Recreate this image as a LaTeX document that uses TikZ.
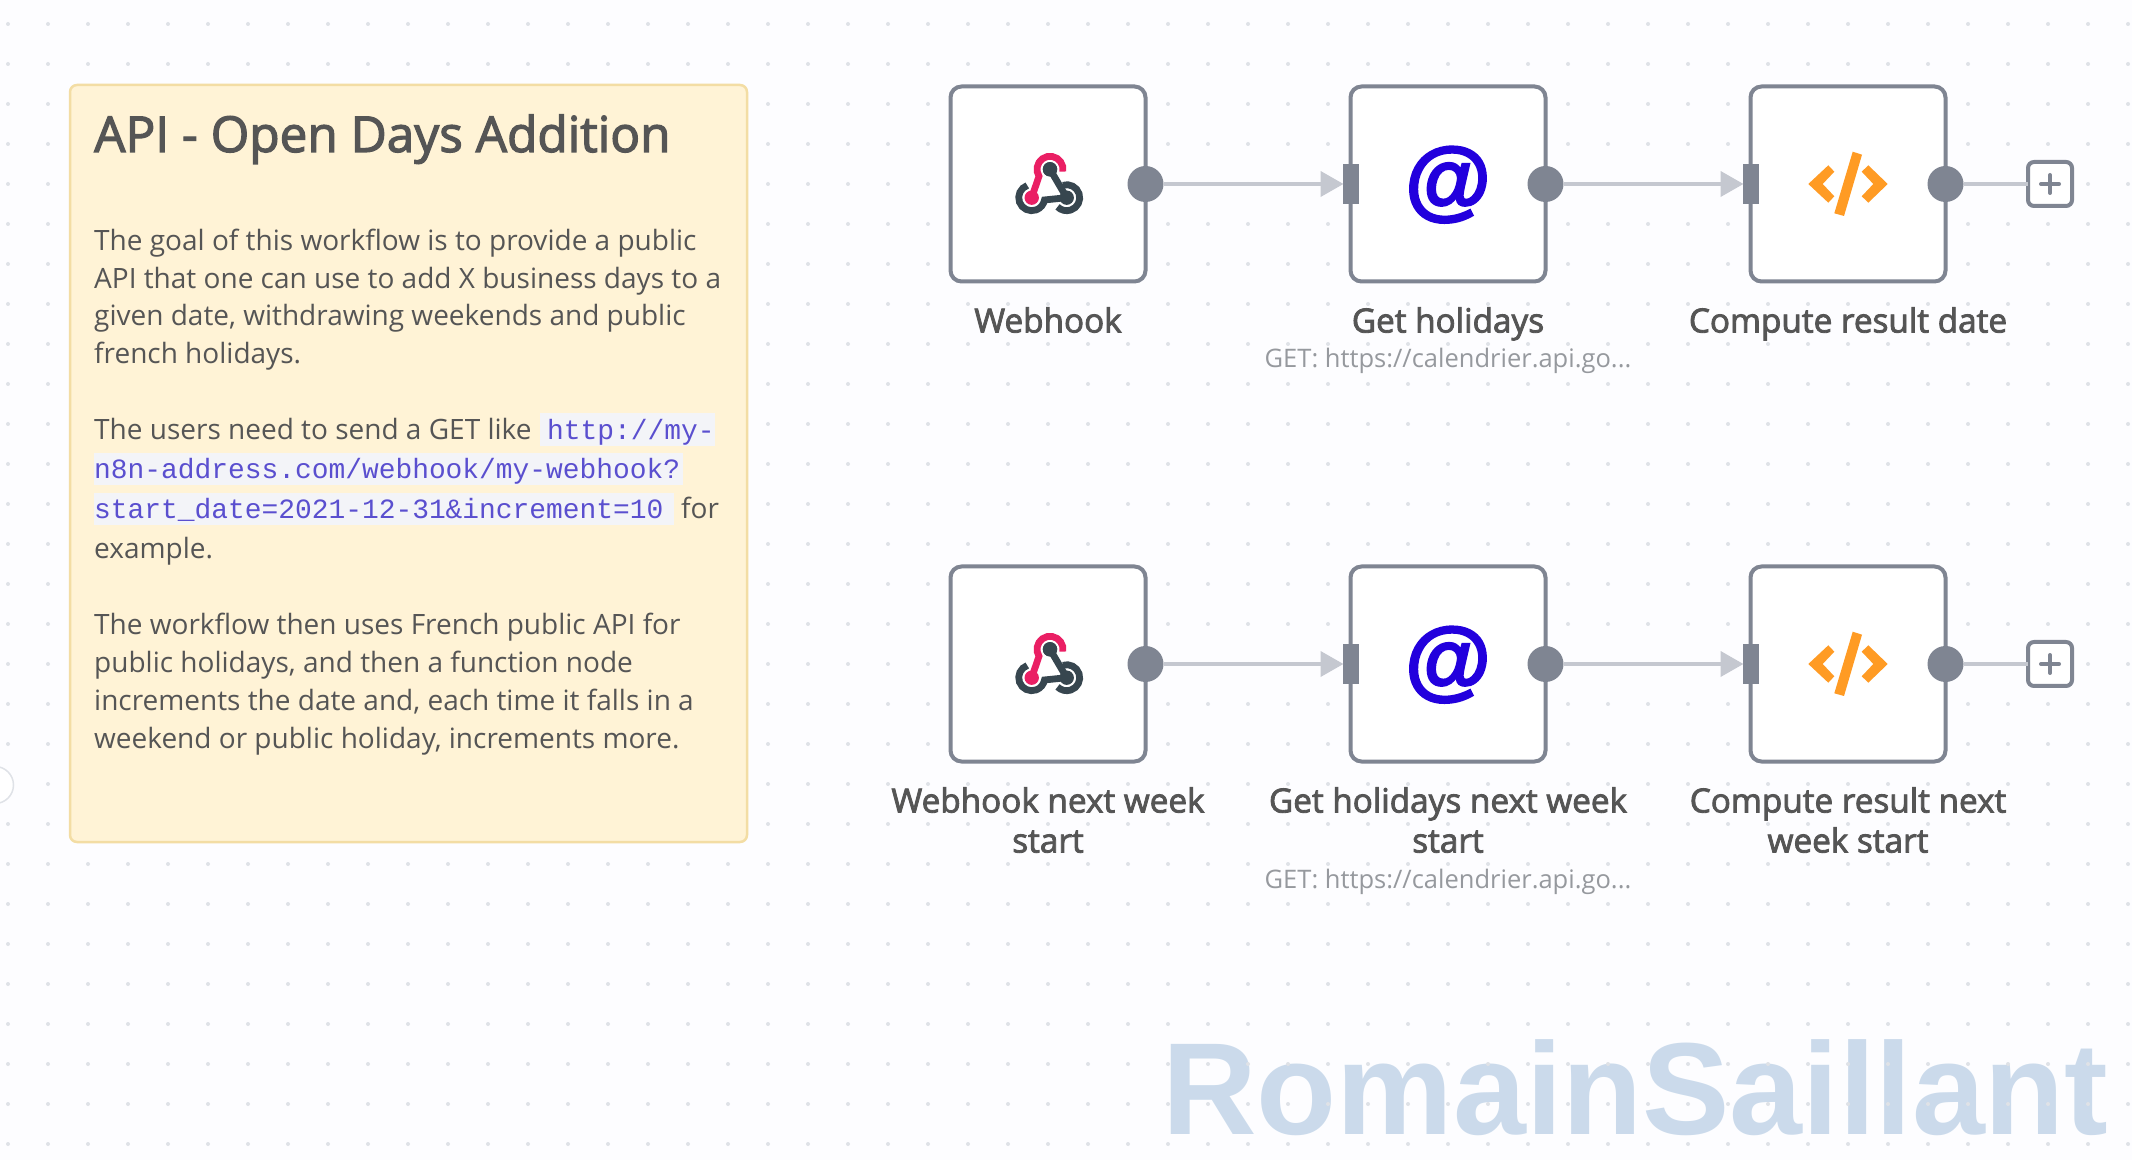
\documentclass[tikz,border=0pt]{standalone}
\usepackage{fontspec}
\usetikzlibrary{arrows.meta}
\setmainfont{Open Sans}
\newfontfamily\labelfont{Open Sans}[FakeBold=2.5]
\newfontfamily\codefont{Liberation Mono}
\newfontfamily\atfont{Liberation Sans Bold}[FakeBold=2.5]
\newfontfamily\markfont{Liberation Sans Bold}
\definecolor{bgc}{HTML}{FDFDFF}
\definecolor{dotc}{HTML}{DFE2E7}
\definecolor{stickyfill}{HTML}{FFF3D6}
\definecolor{stickyline}{HTML}{F3DDA4}
\definecolor{ink}{HTML}{555555}
\definecolor{subink}{HTML}{96999E}
\definecolor{codebg}{HTML}{F3F4F8}
\definecolor{codeink}{HTML}{5A4FCF}
\definecolor{nodeline}{HTML}{7F8592}
\definecolor{wire}{HTML}{C5C8D0}
\definecolor{hookpink}{HTML}{EA1F64}
\definecolor{hookdark}{HTML}{37464F}
\definecolor{atblue}{HTML}{2200DD}
\definecolor{codeorange}{HTML}{FF9B24}
\definecolor{markc}{HTML}{C7D8EA}
\tikzset{
  x=1pt,y=1pt,
  nodebox/.style={draw=nodeline,fill=white,line width=4pt,rounded corners=11pt,minimum width=195pt,minimum height=195pt,inner sep=0pt,outer sep=0pt},
  outport/.style={circle,fill=nodeline,minimum size=36pt,inner sep=0pt,outer sep=0pt},
  inport/.style={rectangle,fill=nodeline,minimum width=16pt,minimum height=40pt,inner sep=0pt,outer sep=0pt},
  plusbox/.style={draw=nodeline,fill=white,line width=4pt,rounded corners=6pt,minimum size=44pt,inner sep=0pt,outer sep=0pt},
  wireline/.style={draw=wire,line width=4pt},
  wirearrow/.style={wireline,-{Triangle[length=23pt,width=25pt,fill=wire]},shorten >=-1pt},
  body/.style={anchor=base west,inner sep=0pt,text=ink,font=\fontsize{28}{28}\selectfont},
  codetxt/.style={anchor=base west,inner sep=0pt,text=codeink,font=\codefont\fontsize{27.9}{28}\selectfont},
  codepatch/.style={fill=codebg,draw=none},
  nodelabel/.style={anchor=base,inner sep=0pt,text=ink,font=\labelfont\fontsize{33.3}{33.3}\selectfont},
  sublabel/.style={anchor=base,inner sep=0pt,text=subink,font=\fontsize{25.5}{25.5}\selectfont},
  atglyph/.style={anchor=base,inner sep=0pt,text=atblue,font=\atfont\fontsize{88}{88}\selectfont},
  pinkstroke/.style={draw=hookpink,line width=6.8pt},
  darkstroke/.style={draw=hookdark,line width=6.8pt},
  casing/.style={draw=white,line width=11pt},
  hookicon/.pic={
    \fill[hookdark] (2,15.7) circle (7.2);
    \fill[hookdark] (18.7,-12.7) circle (7.2);
    % left dark ring and its arm to the right hub
    \draw[darkstroke] (-16.3,-12.7) ++(110:13) arc (110:350:13) -- (18.7,-12.7);
    % right dark ring
    \draw[darkstroke] (18.7,-12.7) ++(108:13) arc (108:-135:13);
    % dark arm from the top hub to the right hub
    \draw[darkstroke] (2,15.7) -- (18.7,-12.7);
    % pink arm with its white casing
    \draw[casing] (-9,8) -- (-16.3,-12.7);
    \draw[pinkstroke] (2,15.7) ++(-10:13) arc (-10:212:13) -- (-16.3,-12.7);
    \fill[hookpink] (-16.3,-12.7) circle (7.2);
    \fill[hookdark] (2,15.7) circle (7.2);
  },
  codeicon/.pic={
    \fill[codeorange] (-39.7,0) -- (-19.7,18.7) -- (-13.7,12.3) -- (-25.3,0) -- (-13.7,-12.3) -- (-19.7,-18.7) -- cycle;
    \fill[codeorange] (39.7,0) -- (20.3,18.7) -- (13.7,12.3) -- (25.3,0) -- (13.7,-12.3) -- (20.3,-18.7) -- cycle;
    \fill[codeorange] (4.7,32.3) -- (14,29.3) -- (-4,-32) -- (-13.7,-29.3) -- cycle;
  },
  plusglyph/.pic={
    \draw[nodeline,line width=4pt,line cap=round] (-9,0) -- (9,0) (0,-9) -- (0,9);
  },
}
\begin{document}
\begin{tikzpicture}
\useasboundingbox (0,0) rectangle (2132,1160);
\clip (0,0) rectangle (2132,1160);
\fill[bgc] (0,0) rectangle (2132,1160);
% watermark
\node[anchor=base west,inner sep=0pt,text=markc,text opacity=0.92,font=\markfont\fontsize{131}{131}\selectfont] (mark) at (1162,26) {RomainSaillant};
% dot grid
\foreach \i in {0,...,53}{\foreach \j in {0,...,28}{
  \fill[dotc] ({8+40*\i},{1136-40*\j}) circle (2);
}}
% partial circle at the left edge
\draw[draw=dotc,line width=1.5pt,fill=white] (-5,375) circle (18.5);
% sticky note
\draw[draw=stickyline,fill=stickyfill,line width=2.5pt,rounded corners=7pt] (70,1075) rectangle (747,318);
\node[anchor=base west,inner sep=0pt,text=ink,font=\labelfont\fontsize{49.5}{49.5}\selectfont] (title) at (94,1008) {API - Open Days Addition};
\node[body] (b1) at (94,909) {The goal of this workflow is to provide a public};
\node[body] (b2) at (94,871) {API that one can use to add X business days to a};
\node[body] (b3) at (94,834) {given date, withdrawing weekends and public};
\node[body] (b4) at (94,796) {french holidays.};
\node[body] (b5) at (94,720) {The users need to send a GET like};
\fill[codepatch] (540,747) rectangle (715,714);
\fill[codepatch] (94,707) rectangle (683,675);
\fill[codepatch] (94,667) rectangle (673.5,635);
\node[codetxt] (c1) at (547,720) {http://my-};
\node[codetxt] (c2) at (94,681) {n8n-address.com/webhook/my-webhook?};
\node[codetxt] (c3) at (94,641) {start\_date=2021-12-31\&increment=10};
\node[body] (b6) at (681,641) {for};
\node[body] (b7) at (94,601) {example.};
\node[body] (b8) at (94,525) {The workflow then uses French public API for};
\node[body] (b9) at (94,487) {public holidays, and then a function node};
\node[body] (b10) at (94,449) {increments the date and, each time it falls in a};
\node[body] (b11) at (94,411) {weekend or public holiday, increments more.};
% workflow nodes: row one
\node[nodebox] (w1) at (1048,976) {};
\node[nodebox] (h1) at (1448,976) {};
\node[nodebox] (f1) at (1848,976) {};
% row two
\node[nodebox] (w2) at (1048,496) {};
\node[nodebox] (h2) at (1448,496) {};
\node[nodebox] (f2) at (1848,496) {};
\node[plusbox] (p1) at (2050,976) {};
\node[plusbox] (p2) at (2050,496) {};
% ports
\node[outport] (wo1) at (w1.east) {};
\node[outport] (ho1) at (h1.east) {};
\node[outport] (fo1) at (f1.east) {};
\node[outport] (wo2) at (w2.east) {};
\node[outport] (ho2) at (h2.east) {};
\node[outport] (fo2) at (f2.east) {};
\node[inport] (hi1) at (h1.west) {};
\node[inport] (fi1) at (f1.west) {};
\node[inport] (hi2) at (h2.west) {};
\node[inport] (fi2) at (f2.west) {};
% connectors
\draw[wirearrow] (wo1) -- (hi1);
\draw[wirearrow] (ho1) -- (fi1);
\draw[wireline] (fo1) -- (p1);
\draw[wirearrow] (wo2) -- (hi2);
\draw[wirearrow] (ho2) -- (fi2);
\draw[wireline] (fo2) -- (p2);
% icons
\pic at ([yshift=-1pt]w1.center) {hookicon};
\pic at ([yshift=-1pt]w2.center) {hookicon};
\pic at (f1.center) {codeicon};
\pic at (f2.center) {codeicon};
\pic at (p1.center) {plusglyph};
\pic at (p2.center) {plusglyph};
\node[atglyph] (at1) at (1448,951) {@};
\node[atglyph] (at2) at (1448,471) {@};
% labels
\node[nodelabel] (lw1) at (1048,827.5) {Webhook};
\node[nodelabel] (lh1) at (1448,827.5) {Get holidays};
\node[sublabel] (sh1) at (1448,792) {GET: https://calendrier.api.go...};
\node[nodelabel] (lf1) at (1848,827.5) {Compute result date};
\node[nodelabel] (lw2) at (1048,347.5) {Webhook next week};
\node[nodelabel] (lw2b) at (1048,307.5) {start};
\node[nodelabel] (lh2) at (1448,347.5) {Get holidays next week};
\node[nodelabel] (lh2b) at (1448,307.5) {start};
\node[sublabel] (sh2) at (1448,272) {GET: https://calendrier.api.go...};
\node[nodelabel] (lf2) at (1848,347.5) {Compute result next};
\node[nodelabel] (lf2b) at (1848,307.5) {week start};
\end{tikzpicture}
\end{document}
